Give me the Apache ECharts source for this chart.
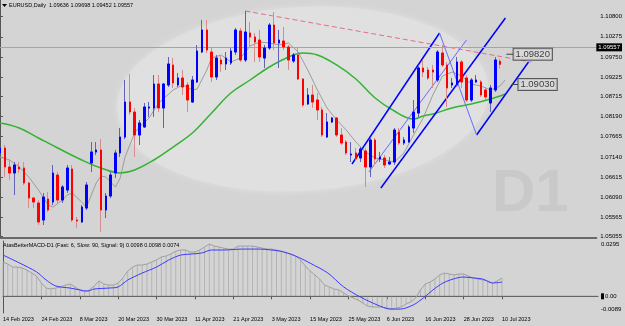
<!DOCTYPE html>
<html>
<head>
<meta charset="utf-8">
<script src="https://cdn.jsdelivr.net/npm/echarts@6/dist/echarts.min.js"></script>
<style>
  html, body { margin: 0; padding: 0; background: #d4d4d4; }
  #chart { width: 625px; height: 326px; }
</style>
</head>
<body>
<div id="chart"></div>
<script>
// EURUSD daily, 14 Feb 2023 .. 10 Jul 2023 (105 bars)
const open = [1.07241,1.07371,1.06875,1.06718,1.06875,1.06849,1.06457,1.06065,1.05935,1.05491,
  1.06039,1.05961,1.06666,1.06013,1.06274,1.06823,1.05491,1.05439,1.05804,1.06979,
  1.07267,1.07319,1.05752,1.06118,1.06718,1.07241,1.07658,1.08572,1.08311,1.07711,
  1.07920,1.08416,1.08416,1.09042,1.08416,1.09016,1.09539,1.09016,1.09199,1.09016,
  1.08572,1.09095,1.09878,1.10453,1.09878,1.09225,1.09669,1.09565,1.09591,1.09878,
  1.10426,1.09669,1.10374,1.10270,1.10191,1.09721,1.09983,1.10583,1.10113,1.10165,
  1.10009,1.09643,1.09800,1.09173,1.08520,1.08755,1.08625,1.08364,1.07658,1.08050,
  1.08155,1.07711,1.07528,1.07188,1.07241,1.07110,1.07293,1.06875,1.07580,1.07084,
  1.07110,1.06953,1.07006,1.07789,1.07502,1.07528,1.07893,1.08285,1.09460,1.09408,
  1.09408,1.09147,1.09852,1.09539,1.09016,1.09016,1.09617,1.09199,1.08625,1.09095,
  1.09095,1.08886,1.08546,1.08886,1.09636];
const close = [1.07371,1.06875,1.06718,1.06927,1.06823,1.06457,1.06065,1.05961,1.05439,1.06091,
  1.05752,1.06718,1.06013,1.06353,1.06849,1.05491,1.05465,1.05830,1.06405,1.07267,
  1.07319,1.05752,1.06118,1.06666,1.07241,1.07658,1.08572,1.08311,1.07711,1.08024,
  1.08442,1.08442,1.09042,1.08416,1.09042,1.09565,1.09069,1.09199,1.08964,1.08625,
  1.09147,1.09904,1.10453,1.09930,1.09225,1.09721,1.09565,1.09721,1.09904,1.10453,
  1.09669,1.10400,1.10270,1.10139,1.09748,1.09983,1.10583,1.10113,1.10191,1.10009,
  1.09669,1.09800,1.09173,1.08494,1.08755,1.08572,1.08364,1.07711,1.08050,1.08155,
  1.07711,1.07502,1.07241,1.07214,1.07084,1.07345,1.06875,1.07580,1.07084,1.07136,
  1.06927,1.07006,1.07841,1.07502,1.07580,1.07920,1.08311,1.09460,1.09356,1.09199,
  1.09356,1.09878,1.09539,1.08938,1.09069,1.09617,1.09095,1.08625,1.09147,1.09147,
  1.08755,1.08703,1.08938,1.09669,1.09557];
const low = [1.07188,1.06614,1.06535,1.06144,1.06718,1.06405,1.05804,1.05804,1.05360,1.05360,
  1.05700,1.05883,1.05935,1.05935,1.06196,1.05439,1.05282,1.05413,1.05752,1.06744,
  1.07188,1.05178,1.05543,1.06065,1.06588,1.07136,1.07606,1.08233,1.07136,1.07450,
  1.07893,1.08181,1.08181,1.08311,1.07893,1.08964,1.08938,1.08964,1.08755,1.08311,
  1.08546,1.09069,1.09852,1.09852,1.09095,1.09147,1.09356,1.09408,1.09539,1.09800,
  1.09617,1.09617,1.09983,1.09617,1.09617,1.09460,1.09930,1.09930,1.09460,1.09930,
  1.09408,1.09591,1.09147,1.08442,1.08494,1.08416,1.08102,1.07658,1.07632,1.08024,
  1.07658,1.07450,1.07188,1.07006,1.07058,1.07006,1.06353,1.06614,1.06927,1.07006,
  1.06849,1.06927,1.06927,1.07450,1.07450,1.07502,1.07763,1.08181,1.09225,1.09147,
  1.08938,1.09095,1.09486,1.08442,1.08938,1.08964,1.08938,1.08572,1.08572,1.09069,
  1.08703,1.08625,1.08311,1.08834,1.09452];
const high = [1.08024,1.07450,1.07058,1.07006,1.07006,1.07006,1.06483,1.06091,1.06013,1.06196,
  1.06222,1.06927,1.06744,1.06405,1.06927,1.06927,1.05569,1.05883,1.06483,1.07528,
  1.07528,1.07606,1.06196,1.06744,1.07319,1.07893,1.09147,1.09304,1.08416,1.08102,
  1.08546,1.08572,1.09277,1.09277,1.09069,1.09748,1.09721,1.09330,1.09408,1.09095,
  1.09251,1.10061,1.10714,1.10714,1.09983,1.09800,1.09800,1.09878,1.09983,1.10505,
  1.10505,1.10949,1.10661,1.10374,1.10453,1.10061,1.10635,1.10923,1.10453,1.10531,
  1.10061,1.09852,1.10009,1.09199,1.08938,1.09016,1.08807,1.08442,1.08285,1.08181,
  1.08181,1.07893,1.07580,1.07528,1.07371,1.07397,1.07371,1.07658,1.07632,1.07267,
  1.07188,1.07136,1.07893,1.07893,1.07658,1.07972,1.08625,1.09539,1.09669,1.09486,
  1.09539,1.09930,1.10061,1.09617,1.09199,1.09748,1.09669,1.09277,1.09199,1.09277,
  1.09147,1.08964,1.09016,1.09748,1.09698];

// moving averages: [bar index, price]
const fastMa = [[0,1.07136],[2,1.07058],[4,1.06875],[6,1.06614],[8,1.06274],[10,1.05883],[11,1.05830],
  [13,1.06013],[14,1.06144],[15,1.06196],[17,1.05961],[18,1.05830],[20,1.06457],[21,1.06640],[22,1.06614],
  [24,1.06353],[25,1.06588],[26,1.07136],[28,1.07763],[29,1.07920],[31,1.08155],[33,1.08546],[36,1.08886],
  [38,1.09016],[40,1.08886],[41,1.08912],[43,1.09408],[44,1.09721],[46,1.09800],[48,1.09617],[50,1.09721],
  [51,1.09878],[52,1.10035],[54,1.10139],[56,1.10113],[58,1.10061],[60,1.10113],[62,1.09878],[64,1.09408],
  [66,1.08886],[68,1.08416],[70,1.08102],[72,1.07841],[74,1.07528],[76,1.07267],[78,1.07110],[80,1.07058],
  [82,1.07006],[84,1.07241],[86,1.07711],[88,1.08155],[90,1.08755],[92,1.09251],[94,1.09356],[96,1.09251],
  [98,1.09042],[100,1.08990],[102,1.08886],[104,1.08990],[105,1.09147]];
const slowMa = [[0,1.08024],[4,1.07893],[8,1.07632],[12,1.07371],[17,1.07058],[21,1.06849],[25,1.06718],
  [28,1.06797],[32,1.07058],[36,1.07397],[40,1.07763],[44,1.08285],[48,1.08807],[52,1.09147],[56,1.09486],
  [60,1.09748],[63,1.09852],[66,1.09800],[70,1.09539],[74,1.09173],[78,1.08677],[82,1.08337],[86,1.08128],
  [88,1.08207],[90,1.08259],[94,1.08416],[98,1.08520],[102,1.08651],[104,1.08729],[105,1.08781]];

// MACD (fast 6, slow 90, signal 9)
const macdMain = [0.0183,0.0172,0.0156,0.0156,0.0151,0.0140,0.0124,0.0108,0.0071,0.0044,
  0.0039,0.0044,0.0050,0.0060,0.0066,0.0050,0.0034,0.0023,0.0034,0.0055,
  0.0082,0.0066,0.0060,0.0060,0.0071,0.0098,0.0135,0.0156,0.0167,0.0167,
  0.0172,0.0183,0.0194,0.0210,0.0215,0.0226,0.0241,0.0247,0.0247,0.0236,
  0.0236,0.0247,0.0263,0.0279,0.0268,0.0263,0.0257,0.0252,0.0252,0.0268,
  0.0268,0.0268,0.0268,0.0263,0.0257,0.0252,0.0252,0.0247,0.0241,0.0231,
  0.0226,0.0215,0.0194,0.0162,0.0135,0.0114,0.0092,0.0060,0.0050,0.0039,
  0.0034,0.0018,0.0002,-0.0009,-0.0020,-0.0036,-0.0052,-0.0057,-0.0057,-0.0057,
  -0.0062,-0.0068,-0.0062,-0.0057,-0.0041,-0.0030,-0.0009,0.0034,0.0066,0.0076,
  0.0092,0.0114,0.0124,0.0119,0.0114,0.0119,0.0119,0.0108,0.0098,0.0092,
  0.0087,0.0082,0.0071,0.0082,0.0098];
const macdSignal = [[0,0.0220],[3.5,0.0177],[7,0.0130],[9,0.0087],[11,0.0055],[14,0.0044],[16,0.0034],
  [17.6,0.0028],[19,0.0039],[22,0.0044],[24,0.0050],[26,0.0087],[29,0.0124],[32,0.0156],[34.5,0.0193],
  [37,0.0220],[39,0.0225],[41.4,0.0231],[43.5,0.0247],[46,0.0247],[50,0.0252],[53,0.0252],[56,0.0247],
  [58.6,0.0236],[61.5,0.0209],[64,0.0177],[67.7,0.0124],[71,0.0050],[74.5,-0.0004],[78,-0.0046],
  [80.7,-0.0068],[82.8,-0.0068],[85.5,-0.0046],[87.6,-0.0009],[89.6,0.0034],[91.7,0.0071],[93.8,0.0092],
  [95.9,0.0103],[98,0.0098],[100,0.0092],[102,0.0071],[104,0.0076]];

// drawn objects: [bar index, price]
const resistance = [[51,1.10949],[110.5,1.09617]];
const channelThick = [
  [[73.2,1.06953],[91.4,1.10374]],
  [[79.2,1.06327],[105.1,1.10766]],
  [[99.1,1.07711],[109.9,1.09617]]
];
const channelThin = [
  [[76.7,1.06744],[97.0,1.10191]],
  [[91.4,1.10374],[99.1,1.07711]]
];
const priceLabels = [[106.8,1.09820],[107.8,1.09030]];
const labelStems = [[[105.3,1.09820],[106.8,1.09820]],[[106.4,1.09030],[107.8,1.09030]]];

const tickLabels = ['14 Feb 2023','24 Feb 2023','8 Mar 2023','20 Mar 2023','30 Mar 2023','11 Apr 2023',
  '21 Apr 2023','3 May 2023','15 May 2023','25 May 2023','6 Jun 2023','16 Jun 2023','28 Jun 2023','10 Jul 2023'];
const priceTicks = [1.10800,1.10275,1.09750,1.09225,1.08715,1.08190,1.07665,1.07140,1.06615,1.06090,1.05565,1.05055];
const macdTicks = [0.0295,0,-0.0089];

const SLOTS = 125;
const cats = Array.from({ length: SLOTS }, (_, i) => String(i));
const candles = open.map((o, i) => [o, close[i], low[i], high[i]]);
const bodies = open.map((o, i) => [o, close[i], Math.min(o, close[i]), Math.max(o, close[i])]);
const lastClose = close[close.length - 1];
const isTick = i => i % 8 === 0 && i <= 104;
const font = 'Liberation Sans';

const seg = (data, color, width, type) => ({
  type: 'line', xAxisIndex: 1, yAxisIndex: 0, data, symbol: 'none', silent: true, z: 4,
  lineStyle: { color, width, type: type || 'solid' }
});

const chart = echarts.init(document.getElementById('chart'));
chart.setOption({
  animation: false,
  backgroundColor: '#d4d4d4',
  textStyle: { fontFamily: font },
  graphic: [
    { type: 'ellipse', z: 0, originX: 303, originY: 99, rotation: 0.06,
      shape: { cx: 303, cy: 99, rx: 186, ry: 92 },
      style: { fill: '#e0e0e0', shadowBlur: 6, shadowColor: '#e0e0e0' } },
    { type: 'text', z: 1, x: 492, y: 194,
      style: { text: 'D1', font: 'bold 60px "Liberation Sans"', fill: '#c9c9c9', verticalAlign: 'middle' } },
    { type: 'polygon', z: 10, shape: { points: [[2, 4], [7, 4], [4.5, 7]] }, style: { fill: '#000' } },
    { type: 'text', z: 10, x: 9, y: 5.5,
      style: { text: 'EURUSD,Daily  1.09636 1.09698 1.09452 1.09557', font: '5.5px "Liberation Sans"', fill: '#000', verticalAlign: 'middle' } },
    { type: 'text', z: 10, x: 3, y: 245,
      style: { text: 'AtasBetterMACD-D1 (Fast: 6, Slow: 90, Signal: 9) 0.0098 0.0098 0.0074', font: '5.5px "Liberation Sans"', fill: '#000', verticalAlign: 'middle' } }
  ],
  grid: [
    { left: 0, right: 27, top: 0, height: 238 },
    { left: 0, right: 27, top: 241, height: 72 }
  ],
  xAxis: [
    { type: 'category', gridIndex: 0, data: cats, boundaryGap: false,
      axisLine: { lineStyle: { color: '#6a6a6a', width: 2 } },
      axisTick: { show: false }, axisLabel: { show: false }, splitLine: { show: false } },
    { type: 'value', gridIndex: 0, min: 0, max: SLOTS - 1, show: false },
    { type: 'category', gridIndex: 1, data: cats, boundaryGap: false,
      axisLine: { lineStyle: { color: '#555', width: 1 } },
      axisTick: { interval: isTick, length: 3, lineStyle: { color: '#555' } },
      axisLabel: { interval: isTick, align: 'left', margin: 3, fontSize: 5.5, color: '#000', fontFamily: font,
        formatter: (v, i) => tickLabels[i / 8] || '' },
      splitLine: { show: false } },
    { type: 'value', gridIndex: 1, min: 0, max: SLOTS - 1, show: false }
  ],
  yAxis: [
    { type: 'value', gridIndex: 0, position: 'right', min: 1.05021, max: 1.11236,
      axisLine: { show: true, lineStyle: { color: '#555' } },
      axisTick: { show: true, length: 3, customValues: priceTicks, lineStyle: { color: '#555' } },
      axisLabel: { customValues: priceTicks, margin: 4, fontSize: 6, color: '#000', fontFamily: font,
        formatter: v => v.toFixed(5) },
      splitLine: { show: false } },
    { type: 'value', gridIndex: 1, position: 'right', min: -0.0089, max: 0.0295,
      axisLine: { show: true, lineStyle: { color: '#555' } },
      axisTick: { show: false },
      axisLabel: { customValues: macdTicks, margin: 3, fontSize: 6, color: '#000', fontFamily: font,
        formatter: v => v > 0.02 ? '{t|0.0295}' : v < 0 ? '{b|-0.0089}' : '{m|}{z|0.00}',
        rich: {
          t: { fontSize: 6, padding: [6, 0, 0, 0] },
          b: { fontSize: 6, padding: [0, 0, 8, 0] },
          m: { width: 3, height: 6, backgroundColor: '#000' },
          z: { fontSize: 6, padding: [0, 0, 0, 1] }
        } },
      splitLine: { show: false } }
  ],
  series: [
    { type: 'candlestick', xAxisIndex: 0, yAxisIndex: 0, data: candles, barWidth: 2, z: 5,
      itemStyle: { color: '#6262b8', color0: '#d48c8c', borderColor: '#6262b8', borderColor0: '#d48c8c', borderWidth: 1 } },
    { type: 'candlestick', xAxisIndex: 0, yAxisIndex: 0, data: bodies, barWidth: 2, z: 6,
      itemStyle: { color: '#0000ff', color0: '#ff0000', borderColor: '#0000ff', borderColor0: '#ff0000', borderWidth: 1 },
      markLine: { symbol: 'none', silent: true, animation: false,
        data: [{ yAxis: lastClose }],
        lineStyle: { color: '#a4a4a4', type: 'solid', width: 1 },
        label: { position: 'end', distance: 0, formatter: lastClose.toFixed(5), color: '#fff',
          backgroundColor: '#000', padding: [1, 2, 1, 2], fontSize: 6, fontFamily: font } } },
    seg(fastMa, '#9c9c9c', 1),
    Object.assign(seg(slowMa, '#33b333', 1.5), { smooth: 0.4 }),
    seg(resistance, '#e07080', 1, [5, 3]),
    ...channelThick.map(d => seg(d, '#0000ff', 1.5)),
    ...channelThin.map(d => seg(d, '#6a6aff', 1)),
    ...labelStems.map(d => seg(d, '#404040', 1)),
    { type: 'scatter', xAxisIndex: 1, yAxisIndex: 0, data: priceLabels, symbolSize: 0, silent: true, z: 8,
      label: { show: true, position: 'right', distance: 0, formatter: p => p.value[1].toFixed(5),
        fontSize: 9.5, color: '#111', fontFamily: font, backgroundColor: '#dadada',
        borderColor: '#3a3a3a', borderWidth: 1, padding: [1, 2, 0, 2] } },
    { type: 'bar', xAxisIndex: 2, yAxisIndex: 1, data: macdMain, barWidth: 1, silent: true,
      itemStyle: { color: '#b4b4b4' } },
    { type: 'line', xAxisIndex: 3, yAxisIndex: 1, data: [[0, 0], [SLOTS - 1, 0]], symbol: 'none', silent: true,
      lineStyle: { color: '#6a6a6a', width: 1 } },
    { type: 'line', xAxisIndex: 2, yAxisIndex: 1, data: macdMain, symbol: 'none', silent: true,
      lineStyle: { color: '#a0a0a0', width: 1 } },
    { type: 'line', xAxisIndex: 3, yAxisIndex: 1, data: macdSignal, symbol: 'none', silent: true, smooth: 0.3,
      lineStyle: { color: '#3a3aff', width: 1 } }
  ]
});
</script>
</body>
</html>
